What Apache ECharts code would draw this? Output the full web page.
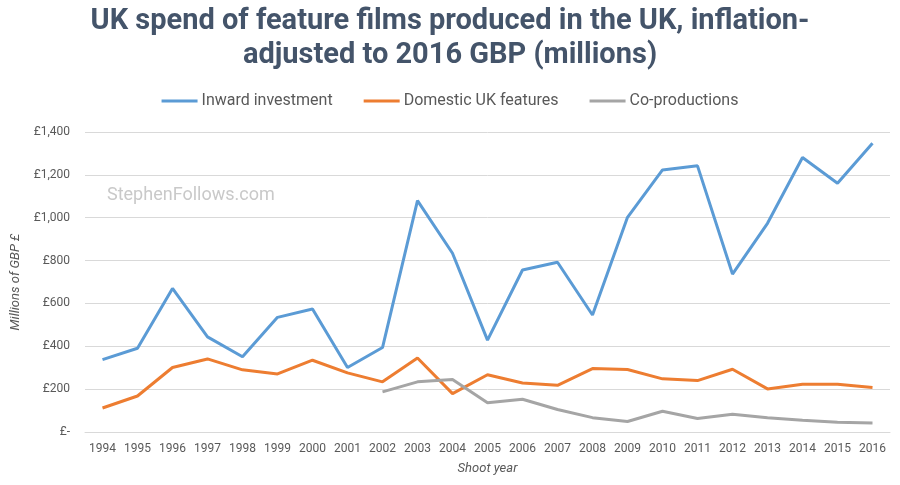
<!DOCTYPE html>
<html>
<head>
<meta charset="utf-8">
<script src="https://cdn.jsdelivr.net/npm/echarts@6/dist/echarts.min.js"></script>
<style>
  html, body { margin: 0; padding: 0; background: #fff; }
  #main { width: 900px; height: 485px; }
</style>
</head>
<body>
<div id="main"></div>
<script>
// 年份与三条线的数据（读自原图，百万英镑）
var years = ['1994', '1995', '1996', '1997', '1998', '1999', '2000', '2001', '2002', '2003', '2004',
  '2005', '2006', '2007', '2008', '2009', '2010', '2011', '2012', '2013', '2014', '2015', '2016'];
var inward = [338, 391, 670, 444, 351, 535, 574, 301, 394, 1080, 834,
  429, 756, 792, 546, 1002, 1223, 1242, 737, 974, 1281, 1161, 1348];
var domestic = [112, 168, 301, 341, 290, 271, 335, 276, 234, 345, 179,
  267, 229, 218, 296, 292, 248, 240, 293, 201, 223, 223, 208];
var coprod = ['-', '-', '-', '-', '-', '-', '-', '-', 187, 234, 245,
  137, 153, 105, 67, 49, 97, 63, 83, 67, 55, 45, 42];

var myChart = echarts.init(document.getElementById('main'));

var option = {
  backgroundColor: '#fff',
  animation: false,
  title: {
    text: 'UK spend of feature films produced in the UK, inflation-\nadjusted to 2016 GBP (millions)',
    left: 'center',
    top: 0,
    textStyle: {
      fontFamily: 'Roboto',
      fontWeight: 'bold',
      fontSize: 29,
      lineHeight: 34,
      color: '#44546a'
    }
  },
  legend: {
    top: 88,
    left: 'center',
    itemGap: 31,
    itemWidth: 36,
    itemHeight: 3,
    icon: 'rect',
    textStyle: {
      fontFamily: 'Roboto',
      fontSize: 16,
      color: '#595959',
      padding: [0, 0, 0, -1]
    },
    data: ['Inward investment', 'Domestic UK features', 'Co-productions']
  },
  grid: {
    left: 85,
    right: 10,
    top: 132,
    bottom: 53
  },
  graphic: [{
    type: 'text',
    left: 107,
    top: 186,
    style: {
      text: 'StephenFollows.com',
      fontFamily: 'Roboto',
      fontSize: 18,
      fill: '#c9c9c9'
    }
  }],
  xAxis: {
    type: 'category',
    data: years,
    boundaryGap: true,
    name: 'Shoot year',
    nameLocation: 'middle',
    nameGap: 30,
    nameTextStyle: {
      fontFamily: 'Roboto',
      fontStyle: 'italic',
      fontSize: 13,
      color: '#595959'
    },
    axisLine: { lineStyle: { color: '#d9d9d9', width: 1 } },
    axisTick: { show: false },
    axisLabel: {
      interval: 0,
      margin: 11,
      fontFamily: 'Roboto',
      fontSize: 12,
      color: '#595959'
    }
  },
  yAxis: {
    type: 'value',
    min: 0,
    max: 1400,
    interval: 200,
    name: 'Millions of GBP £',
    nameLocation: 'middle',
    nameGap: 63,
    nameTextStyle: {
      fontFamily: 'Roboto',
      fontStyle: 'italic',
      fontSize: 13,
      color: '#595959'
    },
    axisLine: { show: false },
    axisTick: { show: false },
    splitLine: { lineStyle: { color: '#d9d9d9', width: 1 } },
    axisLabel: {
      margin: 15,
      fontFamily: 'Roboto',
      fontSize: 12,
      color: '#595959',
      formatter: function (v) {
        return v === 0 ? '£-' : '£' + v.toLocaleString('en-US');
      }
    }
  },
  series: [{
    name: 'Inward investment',
    type: 'line',
    data: inward,
    symbol: 'none',
    lineStyle: { width: 3, color: '#5b9bd5' },
    itemStyle: { color: '#5b9bd5' }
  }, {
    name: 'Domestic UK features',
    type: 'line',
    data: domestic,
    symbol: 'none',
    lineStyle: { width: 3, color: '#ed7d31' },
    itemStyle: { color: '#ed7d31' }
  }, {
    name: 'Co-productions',
    type: 'line',
    data: coprod,
    symbol: 'none',
    lineStyle: { width: 3, color: '#a5a5a5' },
    itemStyle: { color: '#a5a5a5' }
  }]
};

myChart.setOption(option);
</script>
</body>
</html>
